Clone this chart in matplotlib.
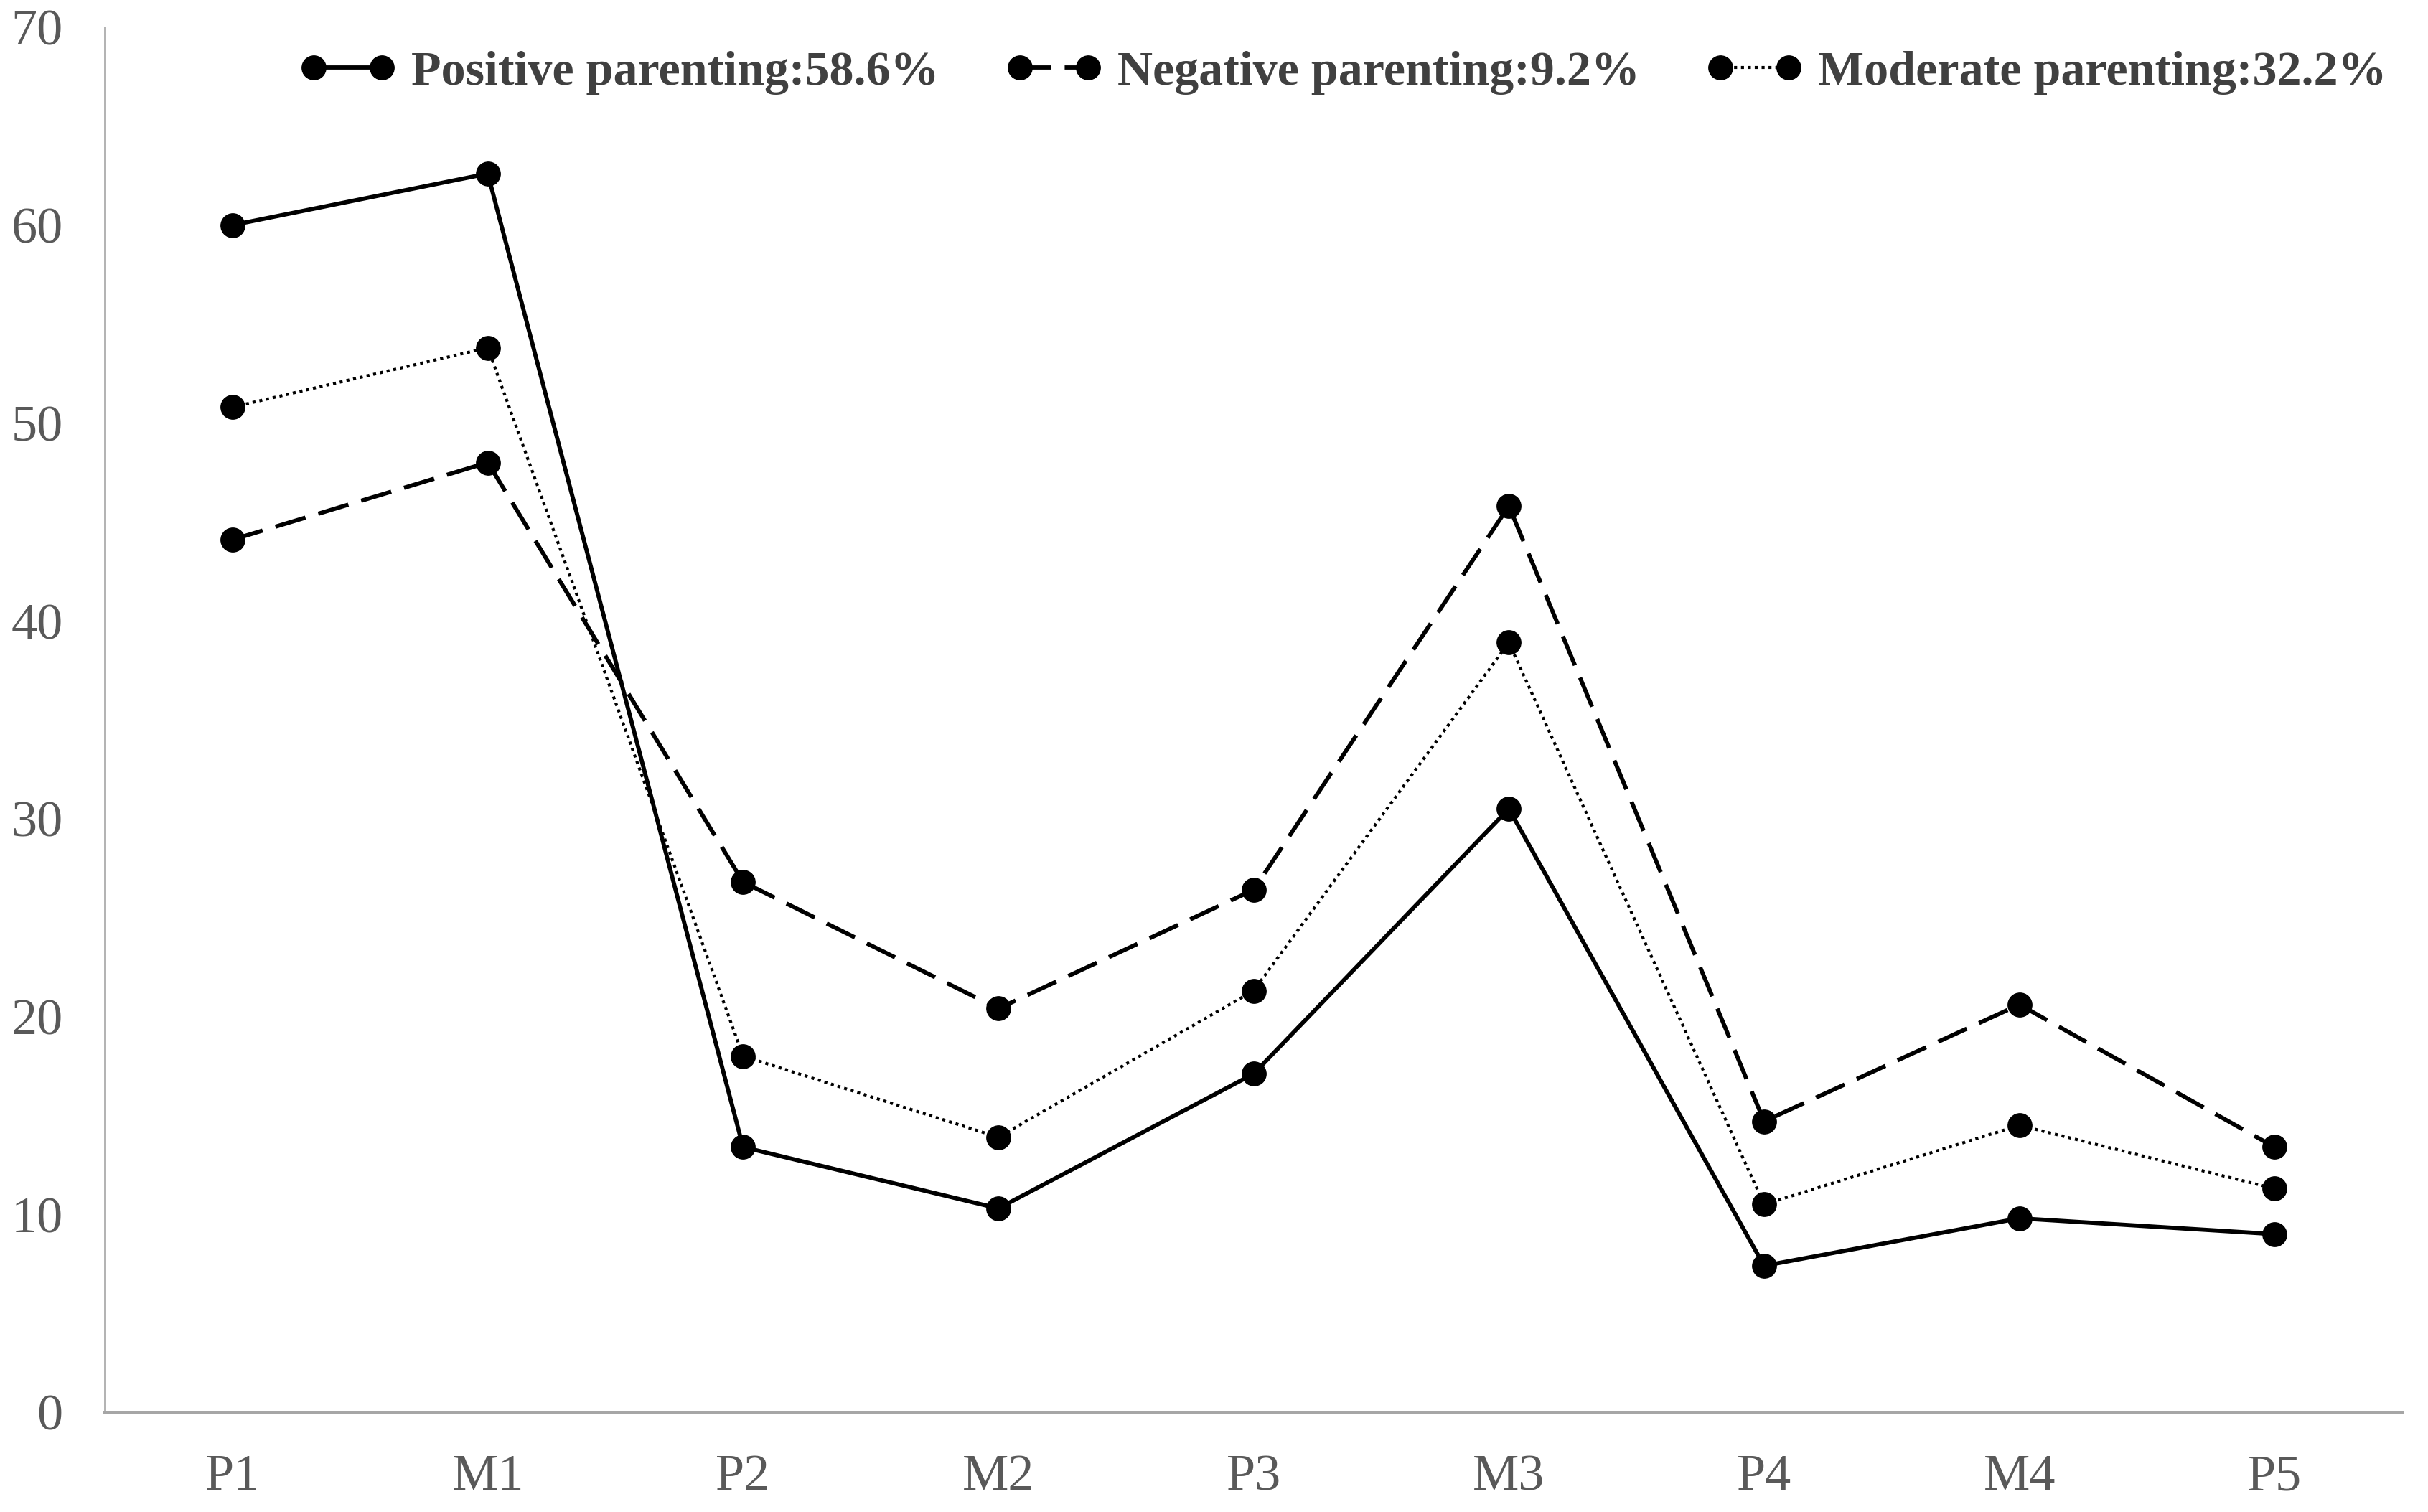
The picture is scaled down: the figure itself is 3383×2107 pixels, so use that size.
import numpy as np
import matplotlib
matplotlib.use("Agg")
import matplotlib.pyplot as plt

plt.rcParams['font.family'] = ['Liberation Serif', 'DejaVu Serif']

categories = ['P1', 'M1', 'P2', 'M2', 'P3', 'M3', 'P4', 'M4', 'P5']
positive = [60.0, 62.6, 13.4, 10.3, 17.1, 30.5, 7.4, 9.8, 9.0]
negative = [44.1, 48.0, 26.8, 20.4, 26.4, 45.8, 14.7, 20.6, 13.4]
moderate = [50.8, 53.8, 18.0, 13.9, 21.3, 38.9, 10.5, 14.5, 11.3]
labels = ['Positive parenting:58.6%', 'Negative parenting:9.2%', 'Moderate parenting:32.2%']

fig = plt.figure(figsize=(33.83, 21.07), dpi=100)
ax = fig.add_axes([0.0432, 0.066, 0.9462, 0.916])

x = np.arange(len(categories))
ax.plot(x, positive, color='black', lw=4.2, ls='-', marker='o', ms=24, label=labels[0])
ax.plot(x, negative, color='black', lw=4.2, ls=(0, (7.5, 3.2)), marker='o', ms=24, label=labels[1])
ax.plot(x, moderate, color='black', lw=3.0, ls=(0, (1, 1.3)), marker='o', ms=24, label=labels[2])

ax.set_xlim(-0.5, len(categories) - 0.5)
ax.set_ylim(0, 70)
ax.set_yticks(range(0, 71, 10))
ax.set_xticks(x)
ax.set_xticklabels(categories)

ax.tick_params(axis='both', length=0, labelsize=52, labelcolor='#595959')
ax.tick_params(axis='y', pad=42)
ax.tick_params(axis='x', pad=42)

for s in ['top', 'right']:
    ax.spines[s].set_visible(False)
ax.spines['left'].set_color('#a6a6a6')
ax.spines['left'].set_linewidth(1.2)
ax.spines['bottom'].set_color('#a6a6a6')
ax.spines['bottom'].set_linewidth(3.6)

leg = fig.legend(loc='center', bbox_to_anchor=(0.553, 0.952), ncol=3, frameon=False,
                 numpoints=2, handlelength=2.0, handletextpad=0.3, columnspacing=1.35,
                 borderpad=0.1, prop={'size': 49, 'weight': 'bold'})
for t in leg.get_texts():
    t.set_color('#404040')

fig.savefig('out.png', dpi=100)
